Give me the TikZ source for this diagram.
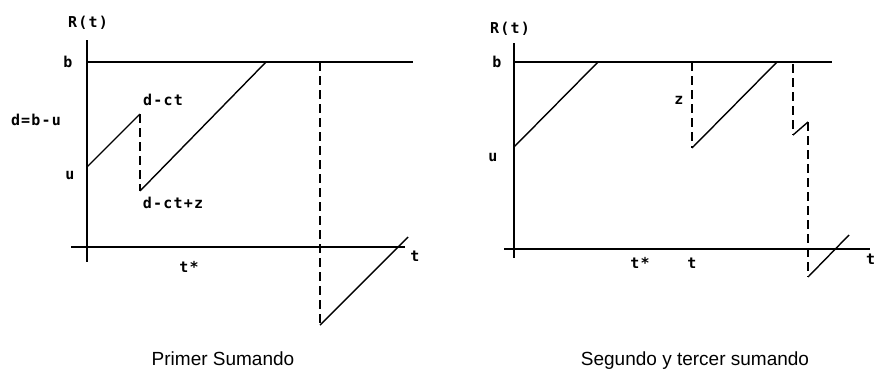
\documentclass[tikz,border=0pt]{standalone}
\usepackage{fontspec}
\setmainfont{Liberation Sans}
\newfontfamily\lblfont[LetterSpace=8]{DejaVu Sans Mono}
\begin{document}
\begin{tikzpicture}[x=1pt,y=-1pt,
  ln/.style={line width=1.4pt,black},
  dsh/.style={line width=1.4pt,black,dash pattern=on 9pt off 5pt},
  lbl/.style={font=\lblfont\fontsize{15}{17}\selectfont\bfseries,inner sep=0pt},
  captxt/.style={font=\fontsize{19}{22}\selectfont,inner sep=0pt,anchor=base}]
\useasboundingbox (0,0) rectangle (877,370);
% ---------- left plot ----------
\coordinate (Ly0) at (87,40);  \coordinate (Ly1) at (87,262);
\coordinate (Lb0) at (87,62);  \coordinate (Lb1) at (413,62);
\coordinate (Lx0) at (71,247); \coordinate (Lx1) at (405,247);
\coordinate (LP0) at (87,167); \coordinate (LP1) at (140,114);
\coordinate (LP2) at (140,191); \coordinate (LP3) at (266,62);
\coordinate (LQ0) at (320,62); \coordinate (LQ1) at (320,325);
\coordinate (LQ2) at (408,237);
\draw[ln] (Ly0) -- (Ly1);
\draw[ln] (Lb0) -- (Lb1);
\draw[ln] (Lx0) -- (Lx1);
\draw[ln] (LP0) -- (LP1);
\draw[dsh] (LP1) -- (LP2);
\draw[ln] (LP2) -- (LP3);
\draw[dsh] (LQ0) -- (LQ1);
\draw[ln] (LQ1) -- (LQ2);
\node[lbl] (LR) at (88,23) {R(t)};
\node[lbl] (Lbl) at (68,62) {b};
\node[lbl] (Lu) at (70,175) {u};
\node[lbl] (Ld) at (36,120) {d=b-u};
\node[lbl] (Ldct) at (163,100) {d-ct};
\node[lbl] (Ldctz) at (173,203) {d-ct+z};
\node[lbl] (Lt) at (415,256) {t};
\node[lbl] (Lts) at (189,267) {t*};
\node[captxt] (Lcap) at (223,365) {Primer Sumando};
% ---------- right plot ----------
\coordinate (Ry0) at (514,43);  \coordinate (Ry1) at (514,258);
\coordinate (Rb0) at (514,62);  \coordinate (Rb1) at (832,62);
\coordinate (Rx0) at (504,249); \coordinate (Rx1) at (870,249);
\coordinate (RP0) at (514,147); \coordinate (RP1) at (598,62);
\coordinate (RZ0) at (692,62);  \coordinate (RZ1) at (692,148);
\coordinate (RZ2) at (777,62);
\coordinate (RW0) at (793,64);  \coordinate (RW1) at (793,135);
\coordinate (RW2) at (808,122); \coordinate (RW3) at (808,277);
\coordinate (RW4) at (849,235);
\draw[ln] (Ry0) -- (Ry1);
\draw[ln] (Rb0) -- (Rb1);
\draw[ln] (Rx0) -- (Rx1);
\draw[ln] (RP0) -- (RP1);
\draw[dsh] (RZ0) -- (RZ1);
\draw[ln] (RZ1) -- (RZ2);
\draw[dsh] (RW0) -- (RW1);
\draw[ln] (RW1) -- (RW2);
\draw[dsh] (RW2) -- (RW3);
\draw[ln] (RW3) -- (RW4);
\node[lbl] (RR) at (510,29) {R(t)};
\node[lbl] (Rbl) at (497,62) {b};
\node[lbl] (Ru) at (493,158) {u};
\node[lbl] (Rz) at (679,100) {z};
\node[lbl] (Rts) at (640,263) {t*};
\node[lbl] (Rt) at (692,263) {t};
\node[lbl,anchor=west] (Rt2) at (866,259) {t};
\node[captxt] (Rcap) at (695,365) {Segundo y tercer sumando};
\end{tikzpicture}
\end{document}
